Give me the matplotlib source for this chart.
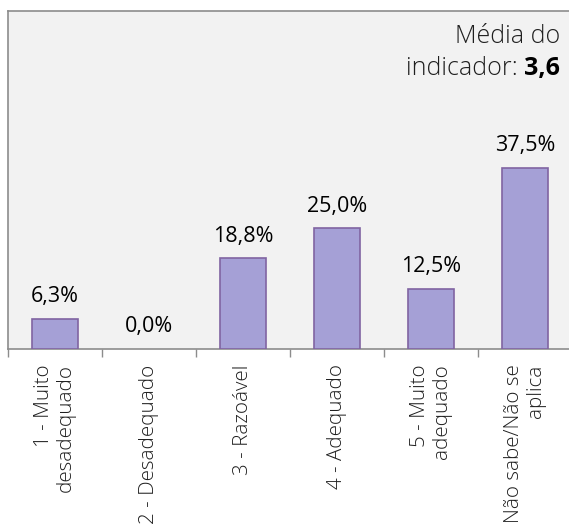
import matplotlib
matplotlib.use("Agg")
import matplotlib.pyplot as plt

categories = ["1 - Muito\ndesadequado", "2 - Desadequado", "3 - Razoável",
              "4 - Adequado", "5 - Muito\nadequado", "Não sabe/Não se\naplica"]
values = [6.3, 0.0, 18.8, 25.0, 12.5, 37.5]
value_labels = ["6,3%", "0,0%", "18,8%", "25,0%", "12,5%", "37,5%"]
media_label = "3,6"

plt.rcParams['font.family'] = ['Open Sans', 'DejaVu Sans']

fig = plt.figure(figsize=(5.69, 5.28), dpi=100)
fig.patch.set_facecolor('white')
ax = fig.add_axes([8/569, 1 - 349/528, 564/569, 338/528])
ax.set_facecolor('#f2f2f2')
for s in ax.spines.values():
    s.set_color('#8c8c8c')
    s.set_linewidth(1.2)

x = list(range(len(values)))
lws = [1.2 if v > 0 else 0 for v in values]
ax.bar(x, values, width=0.48, color='#a5a0d6', edgecolor='#8064a2', linewidth=lws, zorder=3)
ax.set_xlim(-0.5, len(values) - 0.5)
ax.set_ylim(0, 70)
ax.set_yticks([])

ax.set_xticks([i - 0.5 for i in range(len(values) + 1)], minor=False)
ax.set_xticklabels([])
ax.tick_params(axis='x', which='major', length=6, width=1, color='#8c8c8c', direction='out')
ax.set_xticks(x, minor=True)
ax.set_xticklabels(categories, minor=True, rotation=90, fontsize=14.8,
                   fontweight='light', color='#1f1f1f', multialignment='right',
                   linespacing=1.15)
ax.tick_params(axis='x', which='minor', length=0, pad=11)

for xi, v, lab in zip(x, values, value_labels):
    ax.annotate(lab, (xi, v), xytext=(0, 12), textcoords='offset points',
                ha='center', va='baseline', fontsize=15.5, color='black', zorder=4)

fx = 560 / 569
fig.text(fx, 1 - 43 / 528, "Média do", ha='right', va='baseline', fontsize=18,
         fontweight='light', color='#1f1f1f')
tb = fig.text(fx, 1 - 75 / 528, media_label, ha='right', va='baseline', fontsize=18,
              fontweight='bold', color='black')
fig.canvas.draw()
r = fig.canvas.get_renderer()
bb = tb.get_window_extent(r)
fig.text(bb.x0 / fig.bbox.width, 1 - 75 / 528, "indicador: ", ha='right', va='baseline',
         fontsize=18, fontweight='light', color='#1f1f1f')

fig.savefig("out.png", dpi=100, facecolor='white')
